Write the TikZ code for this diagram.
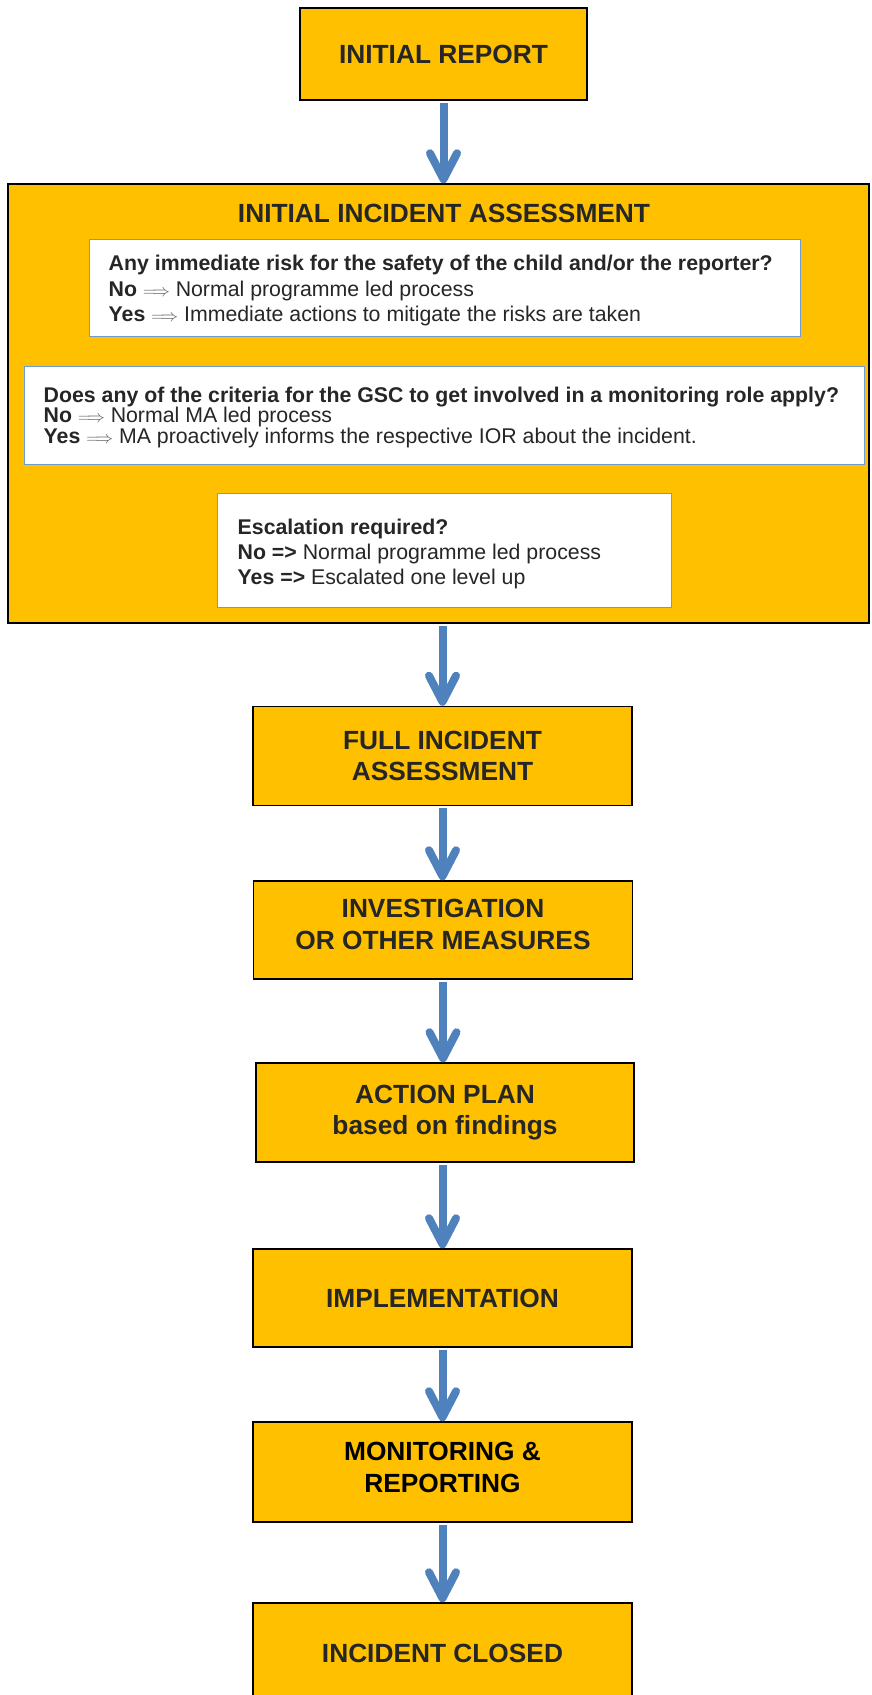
\documentclass[tikz,border=0pt]{standalone}
\usepackage{fontspec}
\setmainfont{Liberation Sans}
\usetikzlibrary{arrows.meta}
\definecolor{boxorange}{RGB}{255,192,0}
\definecolor{flowblue}{RGB}{79,129,189}
\definecolor{textgray}{RGB}{38,38,38}
\definecolor{frameblue}{RGB}{110,155,210}
\definecolor{impgray}{RGB}{95,95,95}
\def\dblarrow{\textcolor{impgray}{\fontsize{19}{19}\selectfont$\Longrightarrow$}}
\tikzset{
	stepbox/.style={draw=black, line width=1.5pt, fill=boxorange, text=textgray,
		font=\fontsize{26.3}{31.6}\selectfont\bfseries, align=center,
		minimum width=379pt, minimum height=99pt, inner sep=0pt},
	qframe/.style={draw=frameblue, line width=1pt, fill=white, inner sep=0pt},
	qtext/.style={anchor=west, text=textgray, font=\fontsize{21.3}{25.2}\selectfont,
		align=left, inner sep=0pt},
	flow/.style={draw=flowblue, line width=8pt,
		-{Straight Barb[length=26pt,width=27pt,round]}, shorten <=2pt}
}

\begin{document}
\begin{tikzpicture}[x=1pt,y=-1pt]
			%%%%% START %%%%%
			\useasboundingbox (0,0) rectangle (871,1695);
			\clip (0,0) rectangle (871,1695);
			\fill[white] (0,0) rectangle (871,1695);
			
			\node[stepbox, minimum width=287pt, minimum height=92pt] (report) at (443.5,54) {INITIAL REPORT};
			
			% initial assessment, with its three questions
			\node[stepbox, minimum width=861pt, minimum height=439pt] (assess) at (438.5,403.5) {};
			\node[font=\fontsize{26.3}{31.6}\selectfont\bfseries, text=textgray] (assesstitle) at (444,213) {INITIAL INCIDENT ASSESSMENT};
			
			\node[qframe, minimum width=711pt, minimum height=97pt] (riskq) at (444.5,287.5) {};
			\node[qtext] (risktext) at ([xshift=20pt,yshift=-3pt]riskq.west) {%
				\textbf{Any immediate risk for the safety of the child and/or the reporter?}\\
				\textbf{No} \dblarrow{} Normal programme led process\\
				\textbf{Yes} \dblarrow{} Immediate actions to mitigate the risks are taken};
			
			\node[qframe, minimum width=840pt, minimum height=98pt] (gscq) at (444,415) {};
			\node[qtext, font=\fontsize{21.3}{20.5}\selectfont] (gsctext) at ([xshift=20pt,yshift=-2pt]gscq.west) {%
				\textbf{Does any of the criteria for the GSC to get involved in a monitoring role apply?}\\
				\textbf{No} \dblarrow{} Normal MA led process\\
				\textbf{Yes} \dblarrow{} MA proactively informs the respective IOR about the incident.};
			
			\node[qframe, minimum width=454pt, minimum height=114pt] (escq) at (444,550) {};
			\node[qtext] (esctext) at ([xshift=21pt,yshift=-4pt]escq.west) {%
				\textbf{Escalation required?}\\
				\textbf{No =>} Normal programme led process\\
				\textbf{Yes =>} Escalated one level up};
			
			% the steps after it
			\node[stepbox] (fullassess) at (442.5,756) {FULL INCIDENT\\ASSESSMENT};
			\node[stepbox, minimum height=98pt, text depth=11pt] (investig) at (443,930) {INVESTIGATION\\OR OTHER MEASURES};
			\node[stepbox, minimum width=378pt] (actionplan) at (445,1112.5) {ACTION PLAN\\based on findings};
			\node[stepbox, minimum height=98pt] (implement) at (442.5,1298) {IMPLEMENTATION};
			\node[stepbox, minimum height=100pt, text=black, text depth=10pt] (monitor) at (442.5,1472) {MONITORING \&\\REPORTING};
			\node[stepbox, minimum height=100pt] (closed) at (442.5,1653) {INCIDENT CLOSED};
			
			\draw[flow] (report.south) -- (report.south |- assess.north);
			\draw[flow] (fullassess.north |- assess.south) -- (fullassess.north);
			\draw[flow] (fullassess.south) -- (fullassess.south |- investig.north);
			\draw[flow] (investig.south) -- (investig.south |- actionplan.north);
			\draw[flow] (implement.north |- actionplan.south) -- (implement.north);
			\draw[flow] (implement.south) -- (implement.south |- monitor.north);
			\draw[flow] (monitor.south) -- (monitor.south |- closed.north);
			
			%%%%% END %%%%%
\end{tikzpicture}
\end{document}
